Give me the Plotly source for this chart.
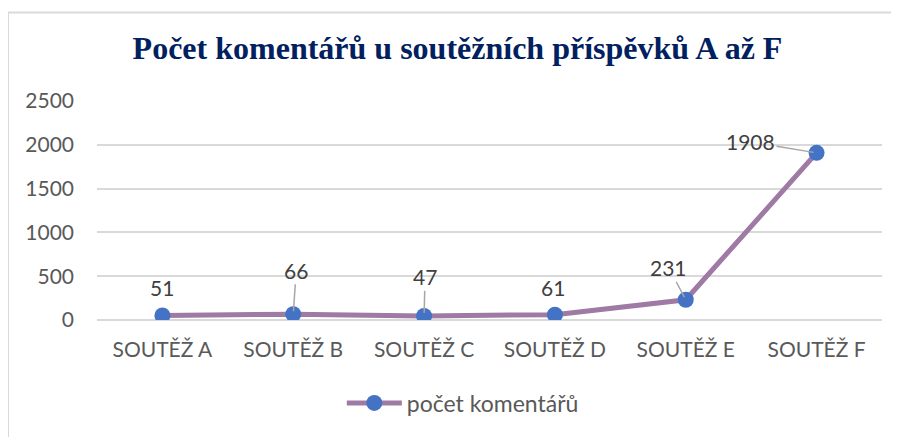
import plotly.graph_objects as go

categories = ["SOUTĚŽ A", "SOUTĚŽ B", "SOUTĚŽ C", "SOUTĚŽ D", "SOUTĚŽ E", "SOUTĚŽ F"]
values = [51, 66, 47, 61, 231, 1908]
series_name = "počet komentářů"
title_text = "Počet komentářů u soutěžních příspěvků A až F"
y_ticks = [0, 500, 1000, 1500, 2000, 2500]

# label offsets (pixels) and whether a leader line is drawn
label_offsets = [(0, -28, False), (3, -44, True), (1, -39, True), (-2, -27, False), (-17, -32, True), (-66, -11, True)]

fig = go.Figure()
fig.add_trace(go.Scatter(
    x=categories, y=values, mode="lines+markers", name=series_name,
    line=dict(color="#9e7aa5", width=5),
    marker=dict(color="#4472c4", size=16),
    hoverinfo="skip",
))

for c, v, (ax, ay, arrow) in zip(categories, values, label_offsets):
    if arrow:
        fig.add_annotation(x=c, y=v, text=str(v), showarrow=True, arrowhead=0,
                           arrowcolor="#a6a6a6", arrowwidth=1.5, ax=ax, ay=ay, standoff=3,
                           font=dict(family="Lato", size=21, color="#404040"))
    else:
        fig.add_annotation(x=c, y=v, text=str(v), showarrow=False, xshift=ax, yshift=-ay,
                           font=dict(family="Lato", size=21, color="#404040"))

# chart border (top and left edges visible)
fig.add_shape(type="line", xref="paper", yref="paper", x0=-0.1134, x1=1.05, y0=1.404, y1=1.404,
              line=dict(color="#d9d9d9", width=2))
fig.add_shape(type="line", xref="paper", yref="paper", x0=-0.1134, x1=-0.1134, y0=1.404, y1=-0.6,
              line=dict(color="#d9d9d9", width=2))

fig.update_layout(
    width=899, height=437,
    margin=dict(l=89, r=25, t=93, b=125),
    paper_bgcolor="white", plot_bgcolor="white",
    title=dict(text="<b>" + title_text + "</b>", x=0.5, xanchor="center", y=0.908, yanchor="middle",
               font=dict(family="Liberation Serif", size=32, color="#002060")),
    showlegend=True,
    legend=dict(orientation="h", x=0.466, xanchor="center", y=-0.379, yanchor="middle",
                itemwidth=55,
                font=dict(family="Lato", size=23, color="#595959")),
    xaxis=dict(range=[-0.5, 5.5], showgrid=False, showline=False, ticks="", zeroline=False,
               tickfont=dict(family="Lato", size=21, color="#595959"), ticklabelstandoff=15),
    yaxis=dict(range=[0, 2500], tickvals=y_ticks, showgrid=True, gridcolor="#d9d9d9", gridwidth=1.5,
               zeroline=True, zerolinecolor="#d9d9d9", zerolinewidth=1.5, showline=False, ticks="",
               tickfont=dict(family="Lato", size=21, color="#595959"), ticklabelstandoff=22),
)

fig.write_html("out.html")
